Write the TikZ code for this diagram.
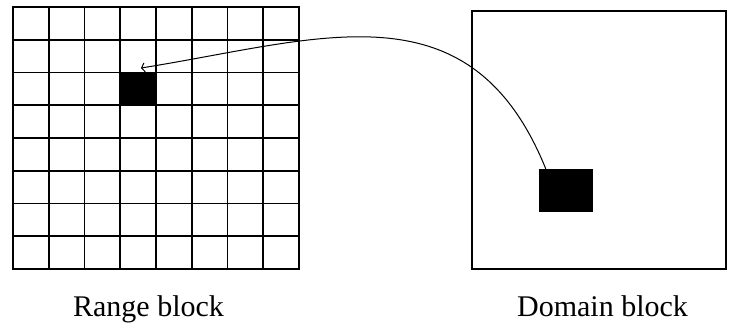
\documentclass[tikz,border=0pt]{standalone}
\usepackage{fontspec}
\setmainfont{Liberation Serif}
\usetikzlibrary{arrows.meta, positioning}

\begin{document}
\begin{tikzpicture}[
			x=1pt, y=-1pt,
			blockbox/.style={rectangle, draw, line width=1.6pt, inner sep=0pt},
			gridline/.style={line width=1.6pt},
			cell/.style={rectangle, fill=black, inner sep=0pt},
			caption/.style={font=\fontsize{30}{36}\selectfont, anchor=base}
			]
			\useasboundingbox (0,0) rectangle (730,325);
			\node[blockbox, minimum width=286pt, minimum height=262pt] (range) at (156,138) {};
			\foreach \i in {1,...,7} {
				\draw[gridline] (13+35.75*\i,7) -- (13+35.75*\i,269);
				\draw[gridline] (13,7+32.75*\i) -- (299,7+32.75*\i);
			}
			\node[cell, minimum width=35.75pt, minimum height=32.75pt] (rsq) at (138.1,88.9) {};
			\node[blockbox, minimum width=254pt, minimum height=258pt] (domain) at (599,140) {};
			\node[cell, minimum width=54pt, minimum height=43pt] (dsq) at (566,190.5) {};
			\coordinate (tip) at (141,68);
			\node[caption] (rlabel) at (148.5,316) {Range block};
			\node[caption] (dlabel) at (602.5,316) {Domain block};
			\draw[line width=1pt, -{Straight Barb[length=3pt, width=9pt]}] (dsq.133) .. controls (470,-18) and (320,39.5) .. (tip);
		\end{tikzpicture}
\end{document}
